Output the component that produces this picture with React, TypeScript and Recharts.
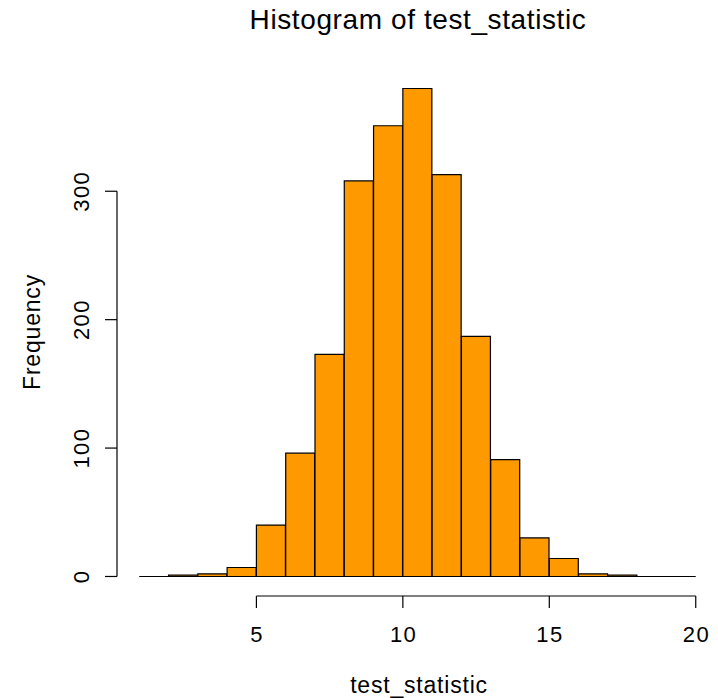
import React from 'react';
import { BarChart, Bar, XAxis, YAxis, ReferenceLine } from 'recharts';

// histogram bins (width 1) and counts
const binStarts = [1, 2, 3, 4, 5, 6, 7, 8, 9, 10, 11, 12, 13, 14, 15, 16, 17, 18, 19];
const counts = [0, 1, 2, 7, 40, 96, 173, 308, 351, 380, 313, 187, 91, 30, 14, 2, 1, 0, 0];
const xTicks = [5, 10, 15, 20];
const yTicks = [0, 100, 200, 300];

const data = binStarts.map((start, i) => ({ mid: start + 0.5, count: counts[i] }));

const FONT = '"Liberation Sans", Arial, Helvetica, sans-serif';
const W = 718;
const H = 698;
const PLOT_LEFT = 117;
const PLOT_TOP = 69;
const PLOT_BOTTOM = 596;
const X_DOMAIN: [number, number] = [0.24, 20.76];
const Y_DOMAIN: [number, number] = [-15.2, 395.2];

const XTick = ({ x, y, payload }: any) => (
  <text
    x={x + 0.7}
    y={y + 34}
    textAnchor="middle"
    fontFamily={FONT}
    fontSize={22}
    letterSpacing={1.4}
    fill="#000"
  >
    {payload.value}
  </text>
);

const YTick = ({ x, y, payload }: any) => {
  const bx = x - 16;
  return (
    <text
      x={bx}
      y={y}
      transform={`rotate(-90, ${bx}, ${y})`}
      textAnchor="middle"
      fontFamily={FONT}
      fontSize={22}
      letterSpacing={1.4}
      fill="#000"
    >
      {payload.value}
    </text>
  );
};

export default function App() {
  return (
    <div style={{ position: 'absolute', left: 0, top: 0, width: W, height: H, background: '#fff' }}>
      <BarChart
        width={W}
        height={H}
        data={data}
        barCategoryGap={0}
        barGap={0}
        margin={{ top: PLOT_TOP, right: 0, bottom: 0, left: 0 }}
      >
        <XAxis
          dataKey="mid"
          type="number"
          domain={X_DOMAIN}
          allowDataOverflow
          ticks={xTicks}
          axisLine={false}
          tickLine={{ stroke: '#000', strokeWidth: 1.2 }}
          tickSize={12}
          tickMargin={0}
          height={H - PLOT_BOTTOM}
          tick={<XTick />}
          interval={0}
        />
        <YAxis
          type="number"
          domain={Y_DOMAIN}
          allowDataOverflow
          ticks={yTicks}
          axisLine={false}
          tickLine={{ stroke: '#000', strokeWidth: 1.2 }}
          tickSize={12}
          tickMargin={0}
          width={PLOT_LEFT}
          tick={<YTick />}
          interval={0}
        />
        <ReferenceLine
          segment={[{ x: 1, y: 0 }, { x: 20, y: 0 }]}
          stroke="#000"
          strokeWidth={1.2}
        />
        <Bar
          dataKey="count"
          fill="#ff9900"
          stroke="#000"
          strokeWidth={1.2}
          isAnimationActive={false}
        />
        <ReferenceLine
          segment={[{ x: 5, y: Y_DOMAIN[0] }, { x: 20, y: Y_DOMAIN[0] }]}
          stroke="#000"
          strokeWidth={1.2}
        />
        <ReferenceLine
          segment={[{ x: X_DOMAIN[0], y: 0 }, { x: X_DOMAIN[0], y: 300 }]}
          stroke="#000"
          strokeWidth={1.2}
        />
      </BarChart>
      <svg
        width={W}
        height={H}
        style={{ position: 'absolute', left: 0, top: 0, pointerEvents: 'none' }}
      >
        <text
          x={418}
          y={29}
          textAnchor="middle"
          fontFamily={FONT}
          fontSize={28}
          letterSpacing={0.6}
          fill="#000"
        >
          Histogram of test_statistic
        </text>
        <text
          x={419}
          y={693}
          textAnchor="middle"
          fontFamily={FONT}
          fontSize={23}
          letterSpacing={0.8}
          fill="#000"
        >
          test_statistic
        </text>
        <text
          x={40}
          y={332}
          transform="rotate(-90, 40, 332)"
          textAnchor="middle"
          fontFamily={FONT}
          fontSize={23}
          letterSpacing={0.8}
          fill="#000"
        >
          Frequency
        </text>
      </svg>
    </div>
  );
}
